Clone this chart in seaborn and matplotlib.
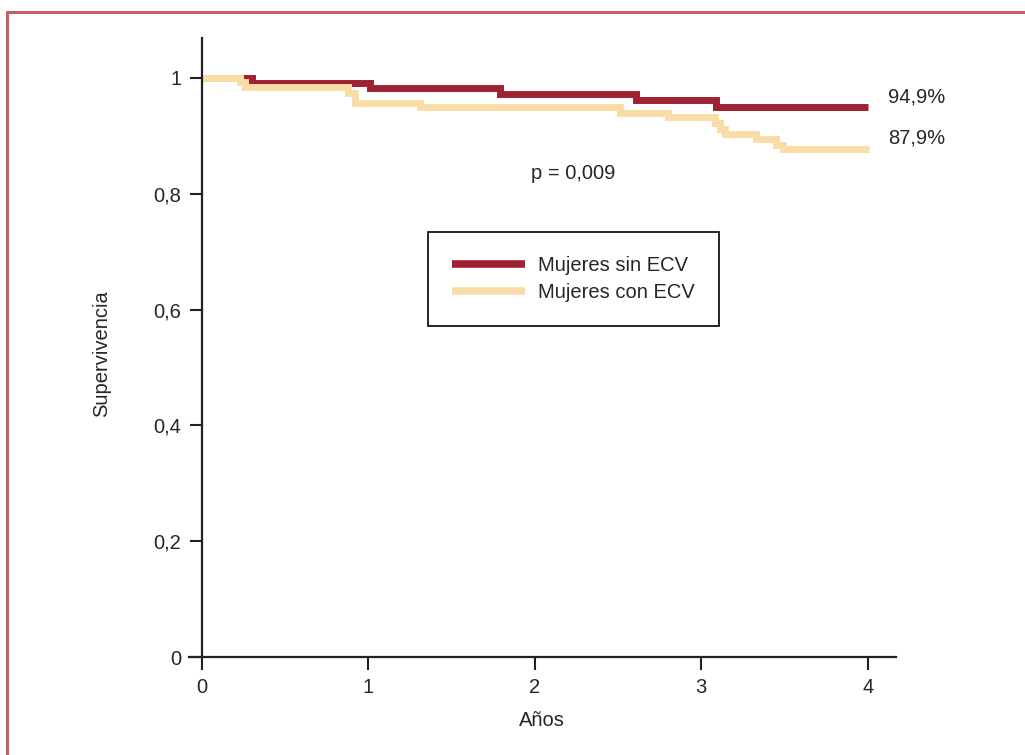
import pandas as pd
import numpy as np
import matplotlib
matplotlib.use("Agg")
from matplotlib import pyplot as plt
from matplotlib.lines import Line2D
import seaborn as sns

# Kaplan-Meier step values
sin_ecv_t = [0, 0.30, 1.01, 1.79, 2.61, 3.09, 4.0]
sin_ecv_s = [1.0, 0.992, 0.983, 0.973, 0.962, 0.949, 0.949]
con_ecv_t = [0, 0.23, 0.26, 0.88, 0.92, 1.31, 2.51, 2.80, 3.08, 3.11, 3.14, 3.33, 3.45, 3.49, 4.01]
con_ecv_s = [1.0, 0.993, 0.984, 0.974, 0.956, 0.949, 0.939, 0.932, 0.922, 0.912, 0.903, 0.894, 0.884, 0.878, 0.878]
groups = ["Mujeres sin ECV", "Mujeres con ECV"]
colors = ["#9E2233", "#FADDA6"]
end_labels = ["94,9%", "87,9%"]
y_ticks = [0, 0.2, 0.4, 0.6, 0.8, 1]
y_ticklabels = ["0", "0,2", "0,4", "0,6", "0,8", "1"]
x_ticks = [0, 1, 2, 3, 4]

df = pd.concat([
    pd.DataFrame({"Años": sin_ecv_t, "Supervivencia": sin_ecv_s, "grupo": groups[0]}),
    pd.DataFrame({"Años": con_ecv_t, "Supervivencia": con_ecv_s, "grupo": groups[1]}),
])

sns.set_style("white")
plt.rcParams["font.family"] = ["Liberation Sans", "DejaVu Sans"]

fig = plt.figure(figsize=(10.25, 7.55), dpi=100)
ax = fig.add_axes([0.1841, 0.1298, 0.690, 0.8199])

sns.lineplot(data=df, x="Años", y="Supervivencia", hue="grupo", hue_order=groups,
             palette=colors, estimator=None, sort=False, drawstyle="steps-post",
             linewidth=5, legend=False, ax=ax,
             solid_capstyle="butt", solid_joinstyle="miter")

ax.set_xlim(-0.08, 4.17)
ax.set_ylim(0, 1.069)
ax.spines["left"].set_position(("data", 0))
ax.spines["right"].set_visible(False)
ax.spines["top"].set_visible(False)
for s in ["left", "bottom"]:
    ax.spines[s].set_linewidth(1.6)
    ax.spines[s].set_color("#222222")

ax.set_xticks(x_ticks)
ax.set_xticklabels([str(t) for t in x_ticks])
ax.set_yticks(y_ticks)
ax.set_yticklabels(y_ticklabels)
ax.tick_params(axis="both", direction="out", length=9, width=1.5, color="#222222",
               labelsize=14.5, bottom=True, left=True)
ax.tick_params(axis="x", pad=6)
ax.tick_params(axis="y", pad=6)

ax.set_xlabel("Años", fontsize=14.5, labelpad=10)
ax.set_ylabel("Supervivencia", fontsize=14.5)
ax.yaxis.set_label_coords(-0.11, 0.49)

for lab, yv in zip(end_labels, [sin_ecv_s[-1], con_ecv_s[-1]]):
    ax.text(4.12, yv + 0.018, lab, fontsize=14.5, va="center", ha="left")
ax.text(2.23, 0.835, "p = 0,009", fontsize=14.5, ha="center", va="center")

handles = [Line2D([0], [0], color=c, lw=5.5, solid_capstyle="butt") for c in colors]
leg = fig.legend(handles, groups, loc="upper left",
                 bbox_to_anchor=(428 / 1025, 1 - 232 / 755), bbox_transform=fig.transFigure,
                 fontsize=14.5, handlelength=3.6, handletextpad=0.65, labelspacing=0.4,
                 borderpad=1.2, frameon=True, fancybox=False, framealpha=1,
                 edgecolor="black", borderaxespad=0)
leg.get_frame().set_linewidth(1.2)

# border around figure
border_c = "#C0606F"
fig.add_artist(Line2D([7 / 1025, 7 / 1025], [0, 1 - 12 / 755], color=border_c, lw=2.2, transform=fig.transFigure))
fig.add_artist(Line2D([7 / 1025, 1], [1 - 12 / 755, 1 - 12 / 755], color=border_c, lw=2.2, transform=fig.transFigure))

fig.savefig("out.png", dpi=100)
